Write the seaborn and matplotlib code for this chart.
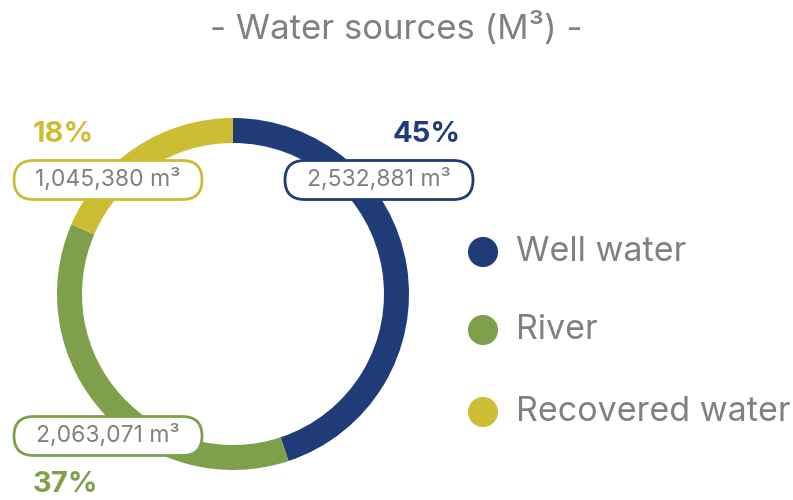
import numpy as np
import seaborn as sns
import matplotlib.pyplot as plt
from matplotlib.patches import FancyBboxPatch

# data
sources = ['Well water', 'River', 'Recovered water']
volumes = [2532881, 2063071, 1045380]
shares = ['45%', '37%', '18%']
colors = ['#1f3b78', '#7ea04a', '#cdbd35']

sns.set_theme(style='white')
plt.rcParams['font.family'] = ['Inter', 'DejaVu Sans']
gray = '#808080'

fig = plt.figure(figsize=(7.93, 5.00), dpi=100)
ax = fig.add_axes([0, 0, 1, 1])

# donut (pixel coords, y measured from bottom)
cx, cy, r = 233, 206, 176
ax.pie(volumes, colors=colors, startangle=90, counterclock=False,
       center=(cx, cy), radius=r, frame=True,
       wedgeprops=dict(width=25, edgecolor='none'))
ax.set_xlim(0, 793)
ax.set_ylim(0, 500)
ax.set_aspect('equal')
ax.axis('off')

fig.text(0.5, 471 / 500, '- Water sources (M\u00b3) -', ha='center', va='center',
         fontsize=25, color=gray)

# value boxes and percentages
box_pos = [(379, 320), (108, 64), (108, 320)]
pct_pos = [(427, 365), (65, 15), (63, 365)]
bw, bh = 188, 39
for vol, pct, col, (bx, by), (px, py) in zip(volumes, shares, colors, box_pos, pct_pos):
    box = FancyBboxPatch((bx - bw / 2, by - bh / 2), bw, bh,
                         boxstyle='round,pad=0,rounding_size=19.5',
                         fc='white', ec=col, lw=2, zorder=5)
    ax.add_patch(box)
    ax.text(bx, by, f'{vol:,} m\u00b3', ha='center', va='center',
            fontsize=16.5, color=gray, zorder=6)
    ax.text(px, py, pct, ha='center', va='center', fontsize=21,
            fontweight='bold', color=col, zorder=6)

# legend
leg_y = [248, 170, 88]
sns.scatterplot(x=[483] * 3, y=leg_y, hue=sources, palette=colors,
                s=470, edgecolor='none', legend=False, ax=ax, zorder=5)
for name, ly in zip(sources, leg_y):
    ax.text(516, ly, name, ha='left', va='center', fontsize=24.5, color=gray)

fig.savefig('out.png', dpi=100)
